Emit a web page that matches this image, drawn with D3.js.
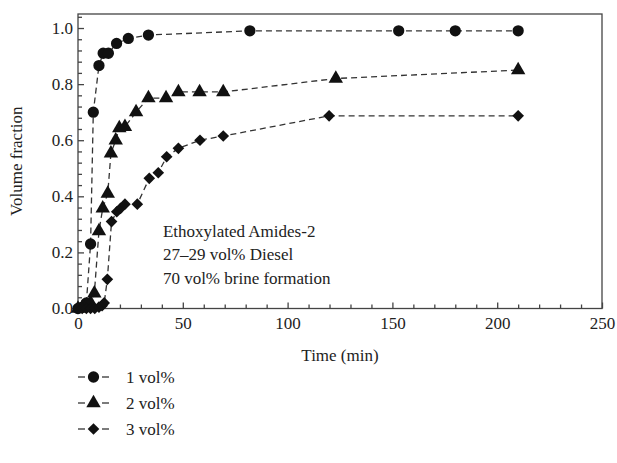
<!DOCTYPE html>
<html>
<head>
<meta charset="utf-8">
<script src="https://cdn.jsdelivr.net/npm/d3@7"></script>
<style>
  body { margin: 0; background: #fff; }
  svg text { font-family: "Liberation Serif", "DejaVu Serif", serif; fill: #222; }
  .curve { fill: none; stroke: #333; stroke-width: 1.3; stroke-dasharray: 6,4; }
  .frame { fill: none; stroke: #444; stroke-width: 1.3; }
</style>
</head>
<body>
<div id="chart"></div>
<script>
// time (min) and volume fraction for each concentration
const t1 = [0, 2, 4, 6, 7.3, 10, 12, 14.5, 18.4, 24, 33.6, 82, 153, 180, 210]
const v1 = [0, 0.005, 0.02, 0.23, 0.70, 0.866, 0.91, 0.91, 0.945, 0.963, 0.975, 0.99, 0.99, 0.99, 0.99]

const t2 = [0, 2, 4, 6, 7.8, 10, 11.8, 14.2, 15.7, 18, 19.7, 22.4, 27.7, 33.6, 42, 47.9, 58, 69.3, 123, 210]
const v2 = [0, 0.003, 0.01, 0.02, 0.054, 0.276, 0.357, 0.41, 0.553, 0.60, 0.643, 0.648, 0.70, 0.75, 0.75, 0.772, 0.772, 0.772, 0.82, 0.85]

const t3 = [0, 2, 4, 6, 8, 10, 11.5, 12.5, 14, 16, 18.5, 20.3, 22.4, 28.3, 34, 38.3, 42.3, 47.9, 58.2, 69.3, 119.8, 210]
const v3 = [0, 0, 0, 0, 0, 0.005, 0.01, 0.02, 0.104, 0.31, 0.345, 0.357, 0.372, 0.372, 0.464, 0.484, 0.541, 0.571, 0.60, 0.615, 0.687, 0.687]

const seriesNames = ['1 vol%', '2 vol%', '3 vol%']
const xTicks = [0, 50, 100, 150, 200, 250]
const yTicks = [0, 0.2, 0.4, 0.6, 0.8, 1.0]
const noteLines = ['Ethoxylated Amides-2', '27\u201329 vol% Diesel', '70 vol% brine formation']

const width = 617
const height = 463
const margin = {top: 14, right: 15, bottom: 154.5, left: 78}
const chartWidth = width - margin.left - margin.right
const chartHeight = height - margin.top - margin.bottom

// circle, triangle, diamond (a square turned 45 degrees)
const symbols = [
  {type: d3.symbolCircle, size: 100, rotate: 0},
  {type: d3.symbolTriangle, size: 90, rotate: 0},
  {type: d3.symbolSquare, size: 68, rotate: 45}
]

const series = [[t1, v1], [t2, v2], [t3, v3]].map(([t, v], i) => ({
  name: seriesNames[i],
  sym: symbols[i],
  values: t.map((d, j) => ({t: d, v: v[j]}))
}))

const xScale = d3.scaleLinear().domain([0, 250]).range([0, chartWidth])
const yScale = d3.scaleLinear().domain([0, 1.05]).range([chartHeight, 0])

const svg = d3.select('#chart').append('svg')
  .attr('width', width)
  .attr('height', height)

const g = svg.append('g')
  .attr('transform', `translate(${margin.left}, ${margin.top})`)

// frame
g.append('rect')
  .attr('class', 'frame')
  .attr('width', chartWidth)
  .attr('height', chartHeight)

// x axis, ticks pointing inside
const xAxis = g.append('g')
  .attr('transform', `translate(0, ${chartHeight})`)
  .call(d3.axisBottom(xScale).tickValues(xTicks).tickSize(-6).tickPadding(8).tickFormat(d3.format('d')))
xAxis.append('g').call(d3.axisBottom(xScale).tickValues(d3.range(10, 250, 10).filter(d => d % 50)).tickSize(-4).tickFormat(''))
xAxis.selectAll('.domain').remove()
xAxis.selectAll('line').attr('stroke', '#444').attr('stroke-width', 1.3)
xAxis.selectAll('text').attr('font-size', 17).attr('fill', '#222')

// y axis
const yAxis = g.append('g')
  .call(d3.axisLeft(yScale).tickValues(yTicks).tickSize(-6).tickPadding(5).tickFormat(d3.format('.1f')))
yAxis.append('g').call(d3.axisLeft(yScale).tickValues(d3.range(0.04, 1.05, 0.04).filter(d => Math.abs(d / 0.2 - Math.round(d / 0.2)) > 0.01)).tickSize(-4).tickFormat(''))
yAxis.selectAll('.domain').remove()
yAxis.selectAll('line').attr('stroke', '#444').attr('stroke-width', 1.3)
yAxis.selectAll('text').attr('font-size', 17).attr('fill', '#222')

// axis titles
svg.append('text')
  .attr('x', margin.left + chartWidth / 2)
  .attr('y', 361)
  .attr('text-anchor', 'middle')
  .attr('font-size', 17)
  .text('Time (min)')

svg.append('text')
  .attr('transform', `translate(22, ${margin.top + chartHeight / 2}) rotate(-90)`)
  .attr('text-anchor', 'middle')
  .attr('font-size', 17)
  .text('Volume fraction')

// curves
const line = d3.line().x(d => xScale(d.t)).y(d => yScale(d.v))
const symbolPath = s => d3.symbol().type(s.type).size(s.size)()

const curves = g.selectAll('.series')
  .data(series)
  .enter()
  .append('g')
  .attr('class', 'series')

curves.append('path')
  .attr('class', 'curve')
  .attr('d', d => line(d.values))

curves.selectAll('.pt')
  .data(d => d.values.map(p => ({...p, sym: d.sym})))
  .enter()
  .append('path')
  .attr('class', 'pt')
  .attr('transform', d => `translate(${xScale(d.t)}, ${yScale(d.v)}) rotate(${d.sym.rotate})`)
  .attr('d', d => symbolPath(d.sym))
  .attr('fill', '#111')

// note inside plot
g.append('text')
  .attr('x', xScale(40.5))
  .attr('y', yScale(0.255))
  .attr('font-size', 17)
  .selectAll('tspan')
  .data(noteLines)
  .enter()
  .append('tspan')
  .attr('x', xScale(40.5))
  .attr('dy', (d, i) => i ? 23.5 : 0)
  .text(d => d)

// legend
const legend = svg.append('g')
  .attr('transform', 'translate(78, 377)')

const legendG = legend.selectAll('.legendG')
  .data(series)
  .enter()
  .append('g')
  .attr('class', 'legendG')
  .attr('transform', (d, i) => `translate(0, ${i * 26})`)

legendG.selectAll('.dash')
  .data([[0, 7], [24, 31]])
  .enter()
  .append('line')
  .attr('class', 'dash')
  .attr('x1', d => d[0])
  .attr('x2', d => d[1])
  .attr('stroke', '#333')
  .attr('stroke-width', 1.3)

legendG.append('path')
  .attr('transform', d => `translate(15.5, 0) rotate(${d.sym.rotate})`)
  .attr('d', d => symbolPath(d.sym))
  .attr('fill', '#111')

legendG.append('text')
  .attr('x', 48)
  .attr('dy', '0.35em')
  .attr('font-size', 17)
  .text(d => d.name)
</script>
</body>
</html>
